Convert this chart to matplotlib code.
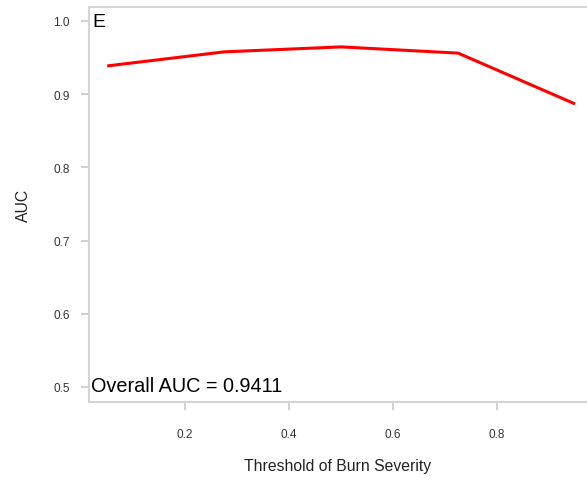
import matplotlib
matplotlib.use('Agg')
import matplotlib.pyplot as plt

plt.rcParams['font.family'] = ['Liberation Sans', 'DejaVu Sans']

# 数据
threshold = [0.05, 0.275, 0.5, 0.725, 0.95]
auc = [0.9385, 0.9577, 0.9645, 0.956, 0.8866]
overall_auc = 0.9411

fig = plt.figure(figsize=(5.87, 4.81), dpi=100)
ax = fig.add_axes([0.1516, 0.1622, 0.8484, 0.8212])

ax.plot(threshold, auc, color='red', lw=2.2, solid_capstyle='butt')

ax.set_xlim(0.015, 0.973)
ax.set_ylim(0.4795, 1.019)
ax.set_xticks([0.2, 0.4, 0.6, 0.8])
ax.set_yticks([0.5, 0.6, 0.7, 0.8, 0.9, 1.0])
ax.set_xticklabels(['0.2', '0.4', '0.6', '0.8'])
ax.set_yticklabels(['0.5', '0.6', '0.7', '0.8', '0.9', '1.0'])

for s in ['left', 'top', 'bottom']:
    ax.spines[s].set_color('#d4d4d4')
    ax.spines[s].set_linewidth(1.5)
ax.spines['right'].set_visible(False)

ax.tick_params(axis='both', colors='#c8c8c8', labelcolor='#333333',
               labelsize=8.5, length=6, width=1.2, direction='out')
ax.tick_params(axis='x', pad=13)
ax.tick_params(axis='y', pad=8)

ax.set_xlabel('Threshold of Burn Severity', fontsize=11.3, color='#222222', labelpad=13)
ax.set_ylabel('AUC', fontsize=11.3, color='#222222', labelpad=16)

ax.text(0.006, 0.985, 'E', transform=ax.transAxes, fontsize=14, va='top', ha='left')
ax.text(0.004, 0.018, 'Overall AUC = %.4f' % overall_auc, transform=ax.transAxes,
        fontsize=14.3, va='bottom', ha='left')

fig.savefig('out.png', dpi=100)
